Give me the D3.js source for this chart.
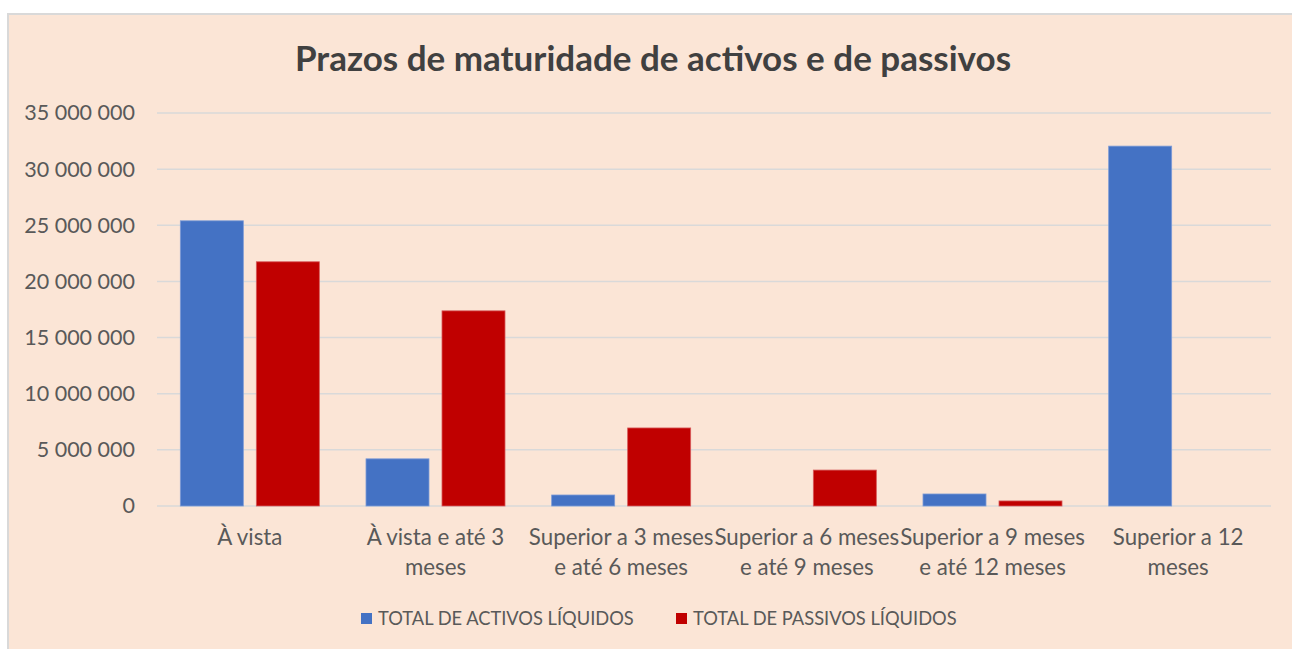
<!DOCTYPE html>
<html>
<head>
<meta charset="utf-8">
<script src="https://cdn.jsdelivr.net/npm/d3@7"></script>
<style>
  html, body { margin: 0; padding: 0; background: #fff; }
  svg { display: block; font-family: Lato, "Open Sans", sans-serif; }
</style>
</head>
<body>
<div id="chart"></div>
<script>
// categories (line breaks as in the original chart)
const categories = [
    "À vista",
    "À vista e até 3\nmeses",
    "Superior a 3 meses\ne até 6 meses",
    "Superior a 6 meses\ne até 9 meses",
    "Superior a 9 meses\ne até 12 meses",
    "Superior a 12\nmeses"
];
const seriesNames = ["TOTAL DE ACTIVOS LÍQUIDOS", "TOTAL DE PASSIVOS LÍQUIDOS"];
const activos = [25400000, 4200000, 980000, 0, 1070000, 32050000];
const passivos = [21750000, 17380000, 6950000, 3200000, 450000, 0];
const yTicks = [0, 5000000, 10000000, 15000000, 20000000, 25000000, 30000000, 35000000];
const colors = ["#4472C4", "#C00000"];

const width = 1292;
const height = 649;

const data = categories.map((c, i) => ({cat: c, values: [activos[i], passivos[i]]}));

const svg = d3.select("#chart")
    .append("svg")
    .attr("width", width)
    .attr("height", height);

// chart area background
svg.append("rect")
    .attr("x", 8)
    .attr("y", 14)
    .attr("width", width + 10)
    .attr("height", height + 10)
    .attr("fill", "#FBE5D6")
    .attr("stroke", "#D9D9D9")
    .attr("stroke-width", 2);

svg.append("text")
    .attr("x", 653)
    .attr("y", 71)
    .attr("text-anchor", "middle")
    .attr("fill", "#404040")
    .style("font-size", "35px")
    .style("font-weight", "bold")
    .text("Prazos de maturidade de activos e de passivos");

const x0 = d3.scaleBand()
    .domain(categories)
    .range([157, 1271]);

const x1 = d3.scaleBand()
    .domain(seriesNames)
    .range([0, x0.bandwidth()])
    .paddingInner(0.171)
    .paddingOuter(0.307);

const y = d3.scaleLinear()
    .domain([0, 35000000])
    .range([506, 113]);

const fmt = d3.formatLocale({decimal: ",", thousands: " ", grouping: [3], currency: ["", " €"]}).format(",");

// gridlines
svg.append("g")
    .selectAll("line")
    .data(yTicks)
    .enter().append("line")
    .attr("x1", 157)
    .attr("x2", 1271)
    .attr("y1", d => y(d))
    .attr("y2", d => y(d))
    .attr("stroke", "#D9D9D9")
    .attr("stroke-width", 1.5);

const yAxis = svg.append("g")
    .attr("transform", "translate(157,0)")
    .call(d3.axisLeft(y).tickValues(yTicks).tickFormat(fmt).tickSize(0).tickPadding(22));
yAxis.select(".domain").remove();
yAxis.selectAll("text")
    .attr("fill", "#595959")
    .style("font-family", "Lato, sans-serif")
    .style("font-size", "21.5px");

const group = svg.append("g")
    .selectAll("g")
    .data(data)
    .enter().append("g")
    .attr("transform", d => `translate(${x0(d.cat)},0)`);

group.selectAll("rect")
    .data(d => d.values.map((v, i) => ({key: seriesNames[i], value: v, i: i})))
    .enter().append("rect")
    .attr("x", d => x1(d.key))
    .attr("width", x1.bandwidth())
    .attr("y", d => y(d.value))
    .attr("height", d => y(0) - y(d.value))
    .attr("fill", d => colors[d.i])
    .attr("stroke", d => d.i === 0 ? "#7D9BD6" : "#D65A5A")
    .attr("stroke-width", d => d.value > 0 ? 0.8 : 0);

// category labels
const labels = svg.append("g")
    .selectAll("text")
    .data(categories)
    .enter().append("text")
    .attr("x", d => x0(d) + x0.bandwidth() / 2)
    .attr("y", 545)
    .attr("text-anchor", "middle")
    .attr("fill", "#595959")
    .style("font-size", "22.3px");

labels.selectAll("tspan")
    .data(d => d.split("\n"))
    .enter().append("tspan")
    .attr("x", function() { return d3.select(this.parentNode).attr("x"); })
    .attr("dy", (d, i) => i === 0 ? 0 : 30)
    .text(d => d);

// legend
const legendX = [361, 676];
const legend = svg.append("g")
    .selectAll("g")
    .data(seriesNames)
    .enter().append("g")
    .attr("transform", (d, i) => `translate(${legendX[i]},613)`);

legend.append("rect")
    .attr("width", 11)
    .attr("height", 11)
    .attr("fill", (d, i) => colors[i]);

legend.append("text")
    .attr("x", 17)
    .attr("y", 12)
    .attr("fill", "#595959")
    .style("font-size", "18.3px")
    .text(d => d);
</script>
</body>
</html>
